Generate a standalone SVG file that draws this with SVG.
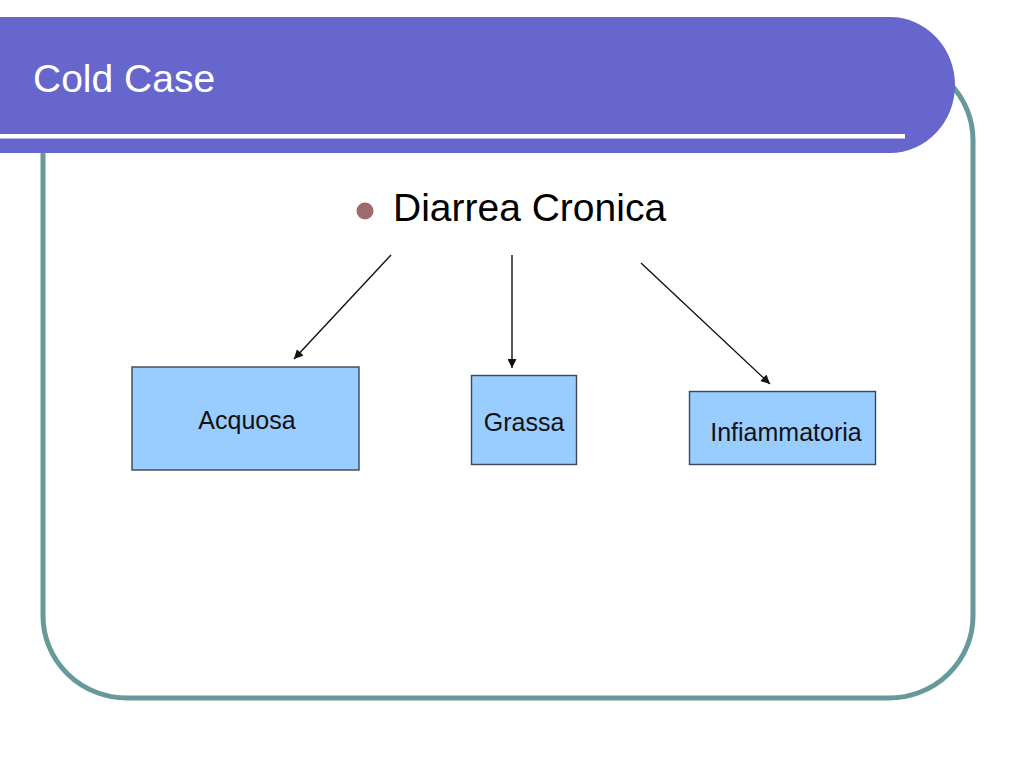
<svg xmlns="http://www.w3.org/2000/svg" width="1024" height="768" viewBox="0 0 1024 768">
<defs>
<style>
.box{fill:#99CCFF;stroke:#3A4654;stroke-width:1.4}
.lbl{font-family:"Liberation Sans",Arial,sans-serif;font-size:25px;fill:#111;text-anchor:middle}
.conn{stroke:#111;stroke-width:1.4;fill:none;marker-end:url(#ah)}
</style>
<marker id="ah" viewBox="0 0 10 10" refX="10" refY="5" markerWidth="10" markerHeight="9" markerUnits="userSpaceOnUse" orient="auto">
<path d="M0,0 L10,5 L0,10 Z" fill="#111"/>
</marker>
</defs>
<rect width="1024" height="768" fill="#fff"/>
<g id="frame">
<rect x="43" y="58" width="930" height="640" rx="84" ry="82" fill="none" stroke="#669999" stroke-width="5"/>
</g>
<g id="header">
<path d="M0,17 H890 A65,68 0 0 1 890,153 H0 Z" fill="#6666CC"/>
<rect x="0" y="134" width="905" height="4.5" fill="#fff"/>
<text x="33" y="92" font-family="'Liberation Sans',Arial,sans-serif" font-size="39" fill="#fff">Cold Case</text>
</g>
<g id="root">
<circle cx="365" cy="211" r="8.5" fill="#A06A6A"/>
<text x="393" y="221" font-family="'Liberation Sans',Arial,sans-serif" font-size="39" fill="#000">Diarrea Cronica</text>
</g>
<g id="connectors">
<line class="conn" x1="391" y1="255" x2="294" y2="359"/>
<line class="conn" x1="512" y1="255" x2="512" y2="368"/>
<line class="conn" x1="641" y1="263" x2="770" y2="384"/>
</g>
<g id="acquosa">
<rect class="box" x="132" y="367" width="227" height="103"/>
<text class="lbl" x="247" y="429">Acquosa</text>
</g>
<g id="grassa">
<rect class="box" x="471.5" y="375.5" width="105" height="89"/>
<text class="lbl" x="524" y="431">Grassa</text>
</g>
<g id="infiammatoria">
<rect class="box" x="689.5" y="391.5" width="186" height="73"/>
<text class="lbl" x="786" y="441">Infiammatoria</text>
</g>
</svg>
